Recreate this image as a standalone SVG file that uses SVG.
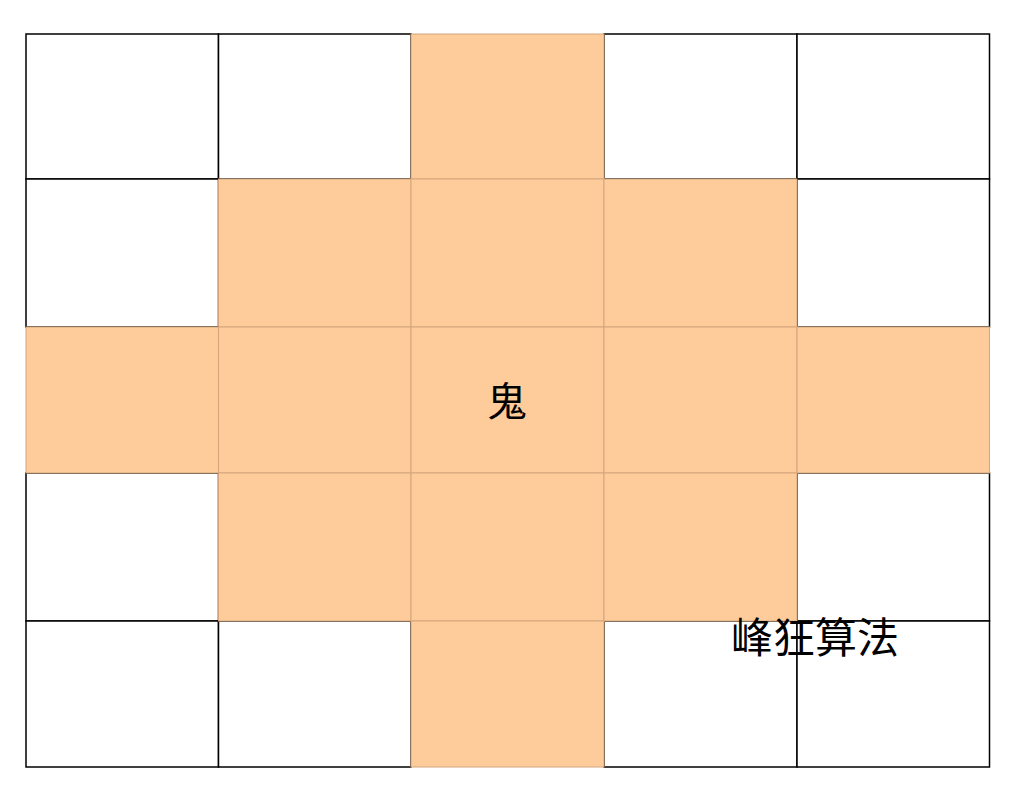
<svg xmlns="http://www.w3.org/2000/svg" width="1018" height="810" viewBox="0 0 1018 810">
<style>
.w{fill:#ffffff;stroke:#000000;stroke-width:1.5}
.o{fill:#fecc9a;stroke:#d4a57c;stroke-width:1}
.t{font-family:"Liberation Sans","Noto Sans CJK SC",sans-serif;fill:#000000}
</style>
<rect width="1018" height="810" fill="#ffffff"/>
<g id="grid">
<rect class="w" x="26" y="34" width="192.5" height="145"/>
<rect class="w" x="218.5" y="34" width="192.5" height="145"/>
<rect class="w" x="604" y="34" width="193" height="145"/>
<rect class="w" x="797" y="34" width="192.5" height="145"/>
<rect class="w" x="26" y="179" width="192.5" height="148"/>
<rect class="w" x="797" y="179" width="192.5" height="148"/>
<rect class="w" x="26" y="473" width="192.5" height="148"/>
<rect class="w" x="797" y="473" width="192.5" height="148"/>
<rect class="w" x="26" y="621" width="192.5" height="146"/>
<rect class="w" x="218.5" y="621" width="192.5" height="146"/>
<rect class="w" x="604" y="621" width="193" height="146"/>
<rect class="w" x="797" y="621" width="192.5" height="146"/>
</g>
<g id="ghost-area">
<rect class="o" x="411" y="34" width="193" height="145"/>
<rect class="o" x="218.5" y="179" width="192.5" height="148"/>
<rect class="o" x="411" y="179" width="193" height="148"/>
<rect class="o" x="604" y="179" width="193" height="148"/>
<rect class="o" x="26" y="327" width="192.5" height="146"/>
<rect class="o" x="218.5" y="327" width="192.5" height="146"/>
<rect class="o" x="411" y="327" width="193" height="146"/>
<rect class="o" x="604" y="327" width="193" height="146"/>
<rect class="o" x="797" y="327" width="192.5" height="146"/>
<rect class="o" x="218.5" y="473" width="192.5" height="148"/>
<rect class="o" x="411" y="473" width="193" height="148"/>
<rect class="o" x="604" y="473" width="193" height="148"/>
<rect class="o" x="411" y="621" width="193" height="146"/>
</g>
<g id="ghost"><text class="t" x="507" y="416" font-size="40" text-anchor="middle">鬼</text></g>
<g id="caption"><text class="t" x="815" y="653" font-size="42" text-anchor="middle">峰狂算法</text></g>
</svg>
